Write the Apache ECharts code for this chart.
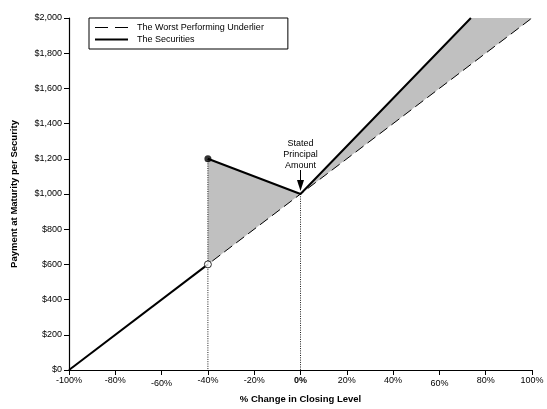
<!DOCTYPE html>
<html>
<head>
<meta charset="utf-8">
<script src="https://cdn.jsdelivr.net/npm/echarts@6/dist/echarts.min.js"></script>
<style>
html,body{margin:0;padding:0;background:#fff;}
#chart{width:547px;height:409px;}
</style>
</head>
<body>
<div id="chart"></div>
<script>
// ---- data ----
const xTicks = [-100, -80, -60, -40, -20, 0, 20, 40, 60, 80, 100];
const yTicks = [0, 200, 400, 600, 800, 1000, 1200, 1400, 1600, 1800, 2000];
const underlierX = [-100, -40, 0, 100];
const underlierY = [0, 600, 1000, 2000];
const securitiesLowX = [-100, -40];
const securitiesLowY = [0, 600];
const securitiesHighX = [-40, 0, 73.6];
const securitiesHighY = [1200, 1000, 2000];
const fillLower = [[-40, 600], [-40, 1200], [0, 1000]];
const fillUpper = [[0, 1000], [73.6, 2000], [100, 2000]];
const dottedX = [-40, 0];
const dottedTop = [1200, 1000];
const filledDot = [[-40, 1200]];
const hollowDot = [[-40, 600]];
const annotationPoint = [0, 1000];
const annotationText = 'Stated\nPrincipal\nAmount';
const seriesNames = ['The Worst Performing Underlier', 'The Securities'];
const xTitle = '% Change in Closing Level';
const yTitle = 'Payment at Maturity per Security';

const zip = (xs, ys) => xs.map((x, i) => [x, ys[i]]);
const FONT = 'Liberation Sans';

const chart = echarts.init(document.getElementById('chart'), null, {renderer: 'canvas'});

const polySeries = (pts, z) => ({
  type: 'custom',
  silent: true,
  z: z,
  data: [0],
  renderItem: (params, api) => ({
    type: 'polygon',
    shape: {points: pts.map(p => api.coord(p))},
    style: {fill: '#c0c0c0', stroke: null}
  })
});

const option = {
  animation: false,
  backgroundColor: '#fff',
  grid: {left: 69, right: 15, top: 18, bottom: 37, containLabel: false},
  legend: {
    show: true,
    left: 89, top: 18,
    orient: 'vertical',
    data: [
      {name: seriesNames[0], lineStyle: {type: [13, 7], width: 1}},
      {name: seriesNames[1]}
    ],
    itemWidth: 33, itemHeight: 10, itemGap: 3,
    padding: [5, 24, 5, 5],
    borderColor: '#000', borderWidth: 1,
    itemStyle: {opacity: 0},
    textStyle: {fontFamily: FONT, fontSize: 9, color: '#000', padding: [0, 0, 0, 4]},
    selectedMode: false
  },
  xAxis: {
    type: 'value', min: -100, max: 100, interval: 20,
    axisLine: {onZero: false, lineStyle: {color: '#000', width: 1.2}},
    axisTick: {show: true, length: 5, lineStyle: {color: '#000'}},
    splitLine: {show: false},
    axisLabel: {
      fontFamily: FONT, fontSize: 9, color: '#000', margin: 6,
      formatter: v => {
        if (v === 0) return '{b|0%}';
        if (Math.abs(v) === 60) return '{low|' + v + '%}';
        return v + '%';
      },
      rich: {
        b: {fontFamily: FONT, fontSize: 9, fontWeight: 'bold', color: '#000'},
        low: {fontFamily: FONT, fontSize: 9, color: '#000', padding: [3, 0, 0, 0]}
      }
    },
    name: xTitle, nameLocation: 'middle', nameGap: 24,
    nameTextStyle: {fontFamily: FONT, fontSize: 9.5, fontWeight: 'bold', color: '#000'}
  },
  yAxis: {
    type: 'value', min: 0, max: 2000, interval: 200,
    axisLine: {show: true, onZero: false, lineStyle: {color: '#000', width: 1.2}},
    axisTick: {show: true, length: 5, lineStyle: {color: '#000'}},
    splitLine: {show: false},
    axisLabel: {
      fontFamily: FONT, fontSize: 9, color: '#000', margin: 7,
      formatter: v => '$' + v.toString().replace(/\B(?=(\d{3})+(?!\d))/g, ',')
    },
    name: yTitle, nameLocation: 'middle', nameGap: 50, nameRotate: 90,
    nameTextStyle: {fontFamily: FONT, fontSize: 9.5, fontWeight: 'bold', color: '#000'}
  },
  series: [
    polySeries(fillLower, 1),
    polySeries(fillUpper, 1),
    {
      type: 'custom', silent: true, z: 2,
      data: dottedX.map((x, i) => [x, dottedTop[i]]),
      renderItem: (params, api) => {
        const top = api.coord([api.value(0), api.value(1)]);
        const bot = api.coord([api.value(0), 0]);
        return {
          type: 'line',
          shape: {x1: top[0], y1: top[1], x2: bot[0], y2: bot[1]},
          style: {stroke: '#000', lineWidth: 0.9, lineDash: [1, 1.3]}
        };
      }
    },
    {
      name: seriesNames[0], type: 'line', z: 3,
      data: zip(underlierX, underlierY),
      symbol: 'none', showSymbol: false,
      lineStyle: {color: '#000', width: 1, type: [10, 5]},
      itemStyle: {color: '#000'}
    },
    {
      name: seriesNames[1], type: 'line', z: 4,
      data: zip(securitiesLowX, securitiesLowY),
      symbol: 'none', showSymbol: false,
      lineStyle: {color: '#000', width: 2},
      itemStyle: {color: '#000'}
    },
    {
      name: seriesNames[1], type: 'line', z: 4,
      data: zip(securitiesHighX, securitiesHighY),
      symbol: 'none', showSymbol: false,
      lineStyle: {color: '#000', width: 2},
      itemStyle: {color: '#000'}
    },
    {
      type: 'scatter', z: 5, silent: true,
      data: filledDot, symbol: 'circle', symbolSize: 7,
      itemStyle: {color: '#000'}
    },
    {
      type: 'scatter', z: 5, silent: true,
      data: hollowDot, symbol: 'circle', symbolSize: 7,
      itemStyle: {color: '#fff', borderColor: '#000', borderWidth: 1}
    },
    {
      type: 'custom', silent: true, z: 6,
      data: [annotationPoint],
      renderItem: (params, api) => {
        const p = api.coord([api.value(0), api.value(1)]);
        const tipY = p[1] - 3;
        return {
          type: 'group',
          children: [
            {type: 'line', shape: {x1: p[0], y1: tipY - 21, x2: p[0], y2: tipY - 10},
             style: {stroke: '#000', lineWidth: 1}},
            {type: 'polygon', shape: {points: [[p[0] - 3.5, tipY - 11], [p[0] + 3.5, tipY - 11], [p[0], tipY]]},
             style: {fill: '#000'}},
            {type: 'text', x: p[0], y: tipY - 20,
             style: {text: annotationText, fontFamily: FONT, fontSize: 9, fill: '#000',
                     align: 'center', verticalAlign: 'bottom', lineHeight: 11}}
          ]
        };
      }
    }
  ]
};
chart.setOption(option);
</script>
</body>
</html>
